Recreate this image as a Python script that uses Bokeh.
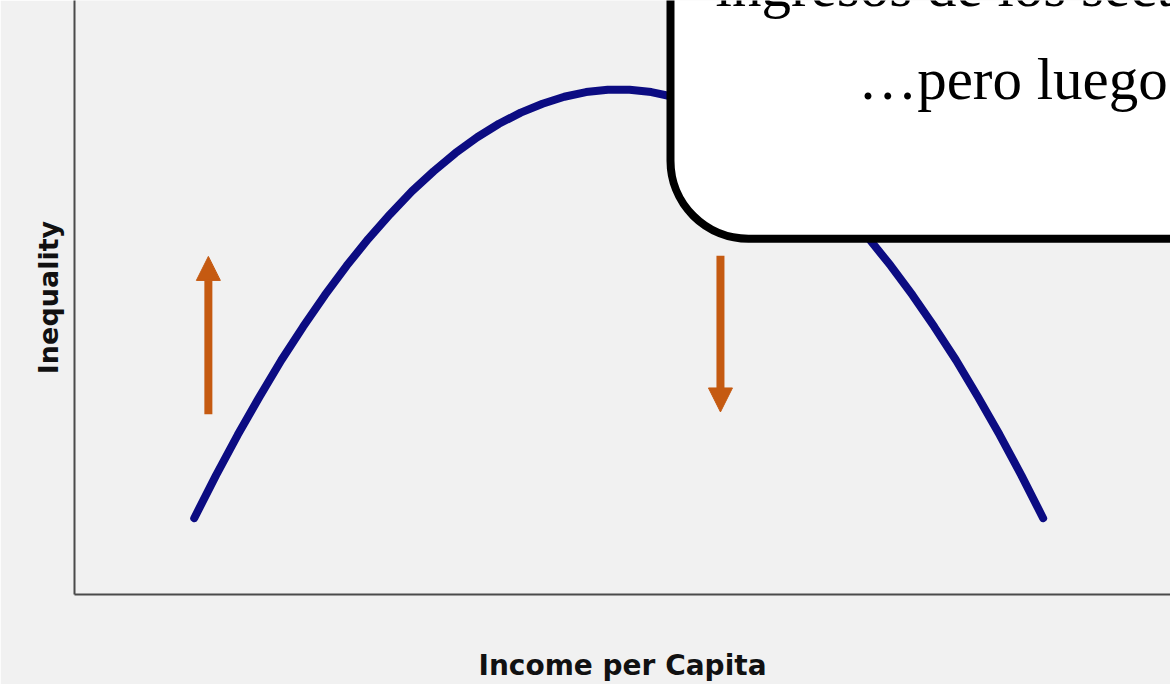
from bokeh.plotting import figure
from bokeh.models import Range1d, BoxAnnotation, Label, Arrow, NormalHead
from bokeh.embed import file_html
from bokeh.resources import INLINE

# --- data (arbitrary units) ---
income = [11, 13, 15, 17, 19, 21, 23, 25, 27, 29, 31, 33, 35, 37, 39, 41, 43, 45, 47, 49,
          51, 53, 55, 57, 59, 61, 63, 65, 67, 69, 71, 73, 75, 77, 79, 81, 83, 85, 87, 89]
inequality = [13.0, 20.3, 27.2, 33.7, 39.9, 45.6, 51.0, 56.0, 60.6, 64.8,
              68.7, 72.1, 75.2, 77.9, 80.2, 82.1, 83.6, 84.8, 85.6, 86.0,
              86.0, 85.6, 84.8, 83.6, 82.1, 80.2, 77.9, 75.2, 72.1, 68.7,
              64.8, 60.6, 56.0, 51.0, 45.6, 39.9, 33.7, 27.2, 20.3, 13.0]

arrow_x = [12.3, 59.35]
arrow_start = [30.7, 57.7]
arrow_end = [57.6, 31.1]

callout_lines = ["ingresos de los sectores", "\u2026pero luego,"]
x_title = "Income per Capita"
y_title = "Inequality"

BG = "#f1f1f1"
NAVY = "#0c0c82"
ORANGE = "#c55a11"

p = figure(width=1170, height=684, x_range=Range1d(0, 100.7), y_range=Range1d(0, 101.2),
           output_backend="svg", toolbar_location=None,
           min_border_left=74, min_border_right=0, min_border_top=0, min_border_bottom=88)
p.background_fill_color = BG
p.border_fill_color = BG
p.outline_line_color = None
p.grid.visible = False

for ax in (p.xaxis[0], p.yaxis[0]):
    ax.ticker = []
    ax.major_tick_out = 0
    ax.major_tick_in = 0
    ax.minor_tick_out = 0
    ax.minor_tick_in = 0
    ax.major_label_standoff = 0
    ax.major_label_text_font_size = "0px"
    ax.axis_line_color = "#4a4a4a"
    ax.axis_line_width = 2
    ax.axis_label_text_font = "DejaVu Sans"
    ax.axis_label_text_font_style = "bold"
    ax.axis_label_text_color = "#111111"

p.xaxis.axis_label = x_title
p.yaxis.axis_label = y_title
p.xaxis.axis_label_text_font_size = "28px"
p.yaxis.axis_label_text_font_size = "27px"
p.xaxis.axis_label_standoff = 54
p.yaxis.axis_label_standoff = 11

p.line(income, inequality, line_color=NAVY, line_width=8, line_cap="round", line_join="round")

for xa, ys, ye in zip(arrow_x, arrow_start, arrow_end):
    p.add_layout(Arrow(x_start=xa, y_start=ys, x_end=xa, y_end=ye,
                       line_color=ORANGE, line_width=8,
                       end=NormalHead(size=24, fill_color=ORANGE, line_color=ORANGE, line_width=1)))

box = BoxAnnotation(left=54.76, bottom=60.62, right=115, top=125,
                    fill_color="white", fill_alpha=1.0,
                    line_color="black", line_width=8, line_alpha=1.0,
                    border_radius=78)
p.add_layout(box)

p.add_layout(Label(x=58.9, y=103.75, text=callout_lines[0], text_font="Liberation Serif",
                   text_font_size="59px", text_color="black", text_baseline="alphabetic"))
p.add_layout(Label(x=72.0, y=87.8, text=callout_lines[1], text_font="Liberation Serif",
                   text_font_size="59px", text_color="black", text_baseline="alphabetic"))

open("out.html", "w").write(file_html(p, INLINE))
